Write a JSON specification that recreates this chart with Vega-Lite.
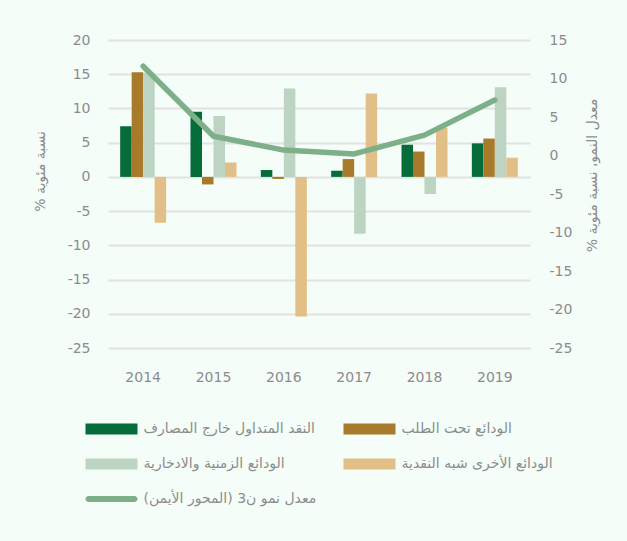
{
  "$schema": "https://vega.github.io/schema/vega-lite/v6.json",
  "autosize": "none",
  "width": 422,
  "height": 308,
  "padding": {"left": 108, "top": 40, "right": 97, "bottom": 193},
  "background": "#f4fdf8",
  "datasets": {
    "bars": [
      {"year": "2014", "series": "النقد المتداول خارج المصارف", "value": 7.4},
      {"year": "2014", "series": "الودائع تحت الطلب", "value": 15.3},
      {"year": "2014", "series": "الودائع الزمنية والادخارية", "value": 15.2},
      {"year": "2014", "series": "الودائع الأخرى شبه النقدية", "value": -6.7},
      {"year": "2015", "series": "النقد المتداول خارج المصارف", "value": 9.5},
      {"year": "2015", "series": "الودائع تحت الطلب", "value": -1.1},
      {"year": "2015", "series": "الودائع الزمنية والادخارية", "value": 8.9},
      {"year": "2015", "series": "الودائع الأخرى شبه النقدية", "value": 2.1},
      {"year": "2016", "series": "النقد المتداول خارج المصارف", "value": 1.0},
      {"year": "2016", "series": "الودائع تحت الطلب", "value": -0.3},
      {"year": "2016", "series": "الودائع الزمنية والادخارية", "value": 12.9},
      {"year": "2016", "series": "الودائع الأخرى شبه النقدية", "value": -20.4},
      {"year": "2017", "series": "النقد المتداول خارج المصارف", "value": 0.9},
      {"year": "2017", "series": "الودائع تحت الطلب", "value": 2.6},
      {"year": "2017", "series": "الودائع الزمنية والادخارية", "value": -8.3},
      {"year": "2017", "series": "الودائع الأخرى شبه النقدية", "value": 12.2},
      {"year": "2018", "series": "النقد المتداول خارج المصارف", "value": 4.7},
      {"year": "2018", "series": "الودائع تحت الطلب", "value": 3.7},
      {"year": "2018", "series": "الودائع الزمنية والادخارية", "value": -2.5},
      {"year": "2018", "series": "الودائع الأخرى شبه النقدية", "value": 7.2},
      {"year": "2019", "series": "النقد المتداول خارج المصارف", "value": 4.9},
      {"year": "2019", "series": "الودائع تحت الطلب", "value": 5.6},
      {"year": "2019", "series": "الودائع الزمنية والادخارية", "value": 13.1},
      {"year": "2019", "series": "الودائع الأخرى شبه النقدية", "value": 2.8}
    ],
    "growth": [
      {"year": "2014", "growth": 11.6},
      {"year": "2015", "growth": 2.5},
      {"year": "2016", "growth": 0.7},
      {"year": "2017", "growth": 0.2},
      {"year": "2018", "growth": 2.65},
      {"year": "2019", "growth": 7.2}
    ]
  },
  "config": {
    "view": {"stroke": null},
    "font": "DejaVu Sans",
    "axis": {
      "labelFont": "DejaVu Sans",
      "labelFontSize": 14,
      "labelColor": "#8c8c8c",
      "titleFont": "DejaVu Sans",
      "titleFontSize": 14,
      "titleFontWeight": "normal",
      "titleColor": "#8c8c8c",
      "domain": false,
      "ticks": false,
      "gridColor": "#e2e2e2",
      "gridWidth": 2
    }
  },
  "encoding": {
    "x": {
      "field": "year",
      "type": "nominal",
      "scale": {"paddingInner": 0.346, "paddingOuter": 0.173},
      "axis": {"title": null, "labelAngle": 0, "labelPadding": 22, "grid": false, "labelFontSize": 14}
    }
  },
  "layer": [
    {
      "data": {"name": "bars"},
      "mark": {"type": "bar"},
      "encoding": {
        "xOffset": {
          "field": "series",
          "type": "nominal",
          "scale": {
            "domain": ["النقد المتداول خارج المصارف", "الودائع تحت الطلب", "الودائع الزمنية والادخارية", "الودائع الأخرى شبه النقدية"],
            "paddingInner": 0, "paddingOuter": 0
          }
        },
        "y": {
          "field": "value",
          "type": "quantitative",
          "scale": {"domain": [-25, 20], "nice": false, "zero": false},
          "axis": {
            "values": [-25, -20, -15, -10, -5, 0, 5, 10, 15, 20],
            "labelExpr": "replace(datum.label, '\u2212', '-')",
            "title": "نسبة مئوية %\u200f",
            "titleAngle": -90,
            "titleBaseline": "bottom",
            "titleAlign": "center",
            "titleX": -61,
            "titleY": 131,
            "labelPadding": 18,
            "grid": true
          }
        },
        "color": {
          "field": "series",
          "type": "nominal",
          "scale": {
            "domain": ["النقد المتداول خارج المصارف", "الودائع تحت الطلب", "الودائع الزمنية والادخارية", "الودائع الأخرى شبه النقدية", "معدل نمو ن3 (المحور الأيمن)"],
            "range": ["#056c3a", "#a87a2b", "#bcd4c1", "#e1bf86", "#7daf89"]
          },
          "legend": {
            "title": null,
            "orient": "none",
            "direction": "horizontal",
            "legendX": -24,
            "legendY": 382,
            "columns": 2,
            "columnPadding": 25,
            "rowPadding": 21,
            "symbolSize": 121,
            "symbolOffset": 20.5,
            "labelOffset": 25,
            "symbolStrokeWidth": 0,
            "labelFont": "DejaVu Sans",
            "labelFontSize": 14,
            "labelColor": "#8c8c8c",
            "labelLimit": 400,
            "encode": {
              "symbols": {
                "update": {
                  "shape": {"signal": "datum.value === 'معدل نمو ن3 (المحور الأيمن)' ? 'M-4.18,-0.545H4.18A0.545,0.545 0 0 1 4.18,0.545H-4.18A0.545,0.545 0 0 1 -4.18,-0.545Z' : 'M-4.727,-1H4.727V1H-4.727Z'"},
                  "fill": {"scale": "color", "field": "value"},
                  "stroke": {"value": "transparent"},
                  "strokeWidth": {"value": 0},
                  "opacity": {"value": 1}
                }
              }
            }
          }
        }
      }
    },
    {
      "data": {"name": "growth"},
      "mark": {"type": "line", "strokeWidth": 5.5, "strokeCap": "round", "strokeJoin": "round"},
      "encoding": {
        "y": {
          "field": "growth",
          "type": "quantitative",
          "scale": {"domain": [-25, 15], "nice": false, "zero": false},
          "axis": {
            "orient": "right",
            "values": [-25, -20, -15, -10, -5, 0, 5, 10, 15],
            "labelExpr": "replace(datum.label, '\u2212', '-')",
            "title": "معدل النمو، نسبة مئوية %\u200f",
            "titleAngle": -90,
            "titleBaseline": "bottom",
            "titleAlign": "center",
            "titleX": 69,
            "titleY": 135,
            "labelPadding": 19,
            "grid": false
          }
        },
        "color": {"datum": "معدل نمو ن3 (المحور الأيمن)"}
      }
    }
  ],
  "resolve": {"scale": {"y": "independent"}}
}
